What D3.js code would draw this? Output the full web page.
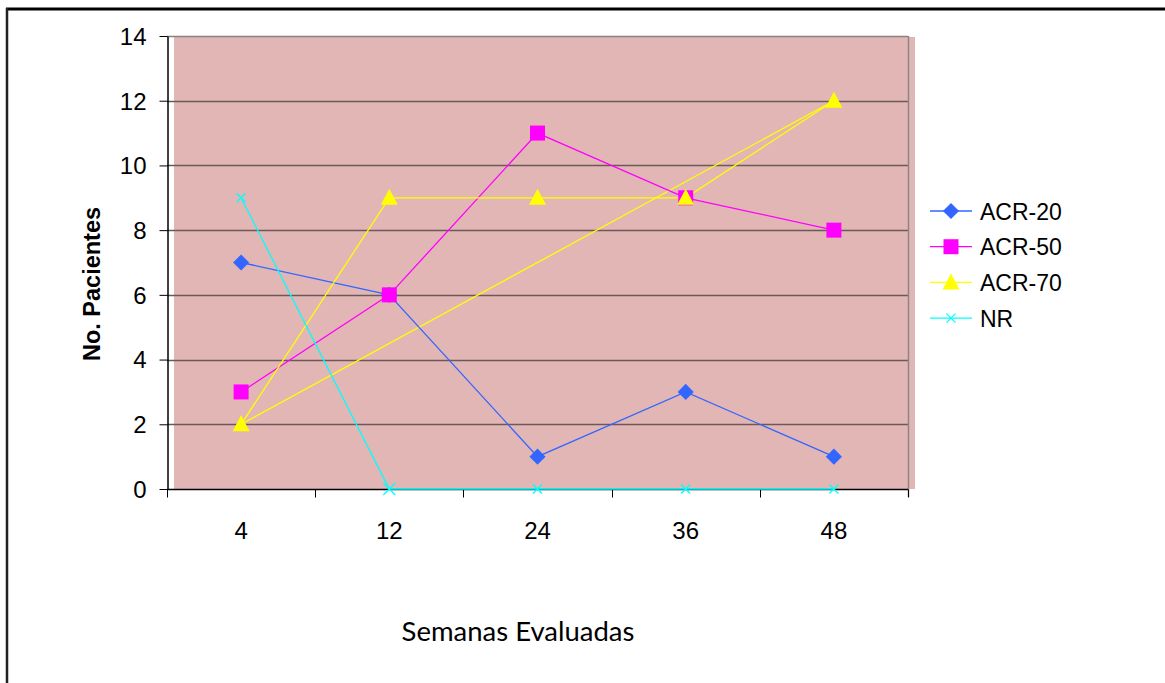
<!DOCTYPE html>
<html>
<head>
<meta charset="utf-8">
<script src="https://cdn.jsdelivr.net/npm/d3@7"></script>
<style>
  html, body { margin: 0; padding: 0; background: #fff; }
  svg { display: block; }
</style>
</head>
<body>
<svg id="chart" width="1165" height="683"></svg>
<script>
// Weeks evaluated and patient counts per response level
const weeks = ["4", "12", "24", "36", "48"];
const acr20 = [7, 6, 1, 3, 1];
const acr50 = [3, 6, 11, 9, 8];
const acr70 = [2, 9, 9, 9, 12];
const acr70Span = [2, null, null, null, 12];
const nr = [9, 0, 0, 0, 0];
const yTicks = [0, 2, 4, 6, 8, 10, 12, 14];

const series = [
  { name: "ACR-20", values: acr20, color: "#3366ff", symbol: "diamond" },
  { name: "ACR-50", values: acr50, color: "#ff00ff", symbol: "square" },
  { name: "ACR-70", values: acr70, color: "#ffff00", symbol: "triangle" },
  { name: "NR", values: nr, color: "#00ffff", symbol: "cross" }
];

const svg = d3.select("#chart");
const plotLeft = 167, plotRight = 908, plotTop = 36, plotBottom = 489;
const sansFont = "Liberation Sans, Arial, sans-serif";

const x = d3.scaleBand().domain(weeks).range([plotLeft, plotRight]);
const y = d3.scaleLinear().domain([0, 14]).range([plotBottom, plotTop]);
const cx = d => x(d) + x.bandwidth() / 2;

// Outer frame (top and left edges)
svg.append("line").attr("x1", 6).attr("x2", 1165).attr("y1", 9).attr("y2", 9)
  .attr("stroke", "#000").attr("stroke-width", 3);
svg.append("line").attr("x1", 7).attr("x2", 7).attr("y1", 8).attr("y2", 683)
  .attr("stroke", "#222").attr("stroke-width", 2.5);

// Plot area fill
svg.append("rect").attr("x", 174).attr("y", plotTop + 1).attr("width", 915 - 174).attr("height", plotBottom - plotTop - 1)
  .attr("fill", "#e3b6b6");

// Horizontal gridlines
svg.append("g").selectAll("line").data(yTicks.filter(t => t > 0)).join("line")
  .attr("x1", plotLeft).attr("x2", plotRight)
  .attr("y1", d => Math.round(y(d)) + 0.5).attr("y2", d => Math.round(y(d)) + 0.5)
  .attr("stroke", d => d === 14 ? "#8a8080" : "#6b5858").attr("stroke-width", 1.5);

// Right border of plot area
svg.append("line").attr("x1", plotRight + 0.5).attr("x2", plotRight + 0.5).attr("y1", plotTop).attr("y2", plotBottom + 8)
  .attr("stroke", "#888").attr("stroke-width", 1.5);

// Y axis
const yAxis = d3.axisLeft(y).tickValues(yTicks).tickSize(8).tickSizeOuter(0);
const gy = svg.append("g").attr("transform", `translate(${plotLeft + 0.5},0)`).call(yAxis);
gy.select(".domain").attr("stroke", "#000").attr("stroke-width", 1.5);
gy.selectAll(".tick line").attr("stroke", "#000");
gy.selectAll(".tick text").attr("font-family", sansFont)
  .attr("font-size", 24).attr("fill", "#000").attr("x", -21).attr("dy", "0.35em");

// X axis with ticks at category boundaries
const gx = svg.append("g").attr("transform", `translate(0,${plotBottom + 0.5})`);
gx.append("line").attr("x1", plotLeft).attr("x2", plotRight).attr("stroke", "#000").attr("stroke-width", 1.5);
const edges = weeks.map(w => x(w)).concat([plotRight]);
gx.selectAll("line.tk").data(edges).join("line").attr("class", "tk")
  .attr("x1", d => Math.round(d) + 0.5).attr("x2", d => Math.round(d) + 0.5)
  .attr("y1", 0).attr("y2", 8).attr("stroke", "#000");
gx.selectAll("text").data(weeks).join("text")
  .attr("x", d => cx(d)).attr("y", 49)
  .attr("text-anchor", "middle")
  .attr("font-family", sansFont).attr("font-size", 24)
  .text(d => d);

// Straight yellow connector between the first and last ACR-70 readings
const spanPts = weeks.map((w, i) => [w, acr70Span[i]]).filter(p => p[1] !== null);
svg.append("path")
  .attr("d", d3.line().x(p => cx(p[0])).y(p => y(p[1]))(spanPts))
  .attr("fill", "none").attr("stroke", "#ffff00").attr("stroke-width", 1.3);

// Series lines
const line = d3.line().x((v, i) => cx(weeks[i])).y(v => y(v));
series.forEach(s => {
  svg.append("path").attr("d", line(s.values))
    .attr("fill", "none").attr("stroke", s.color).attr("stroke-width", 1.3);
});

function drawMarker(g, sym, color, px, py, big) {
  if (sym === "diamond") {
    g.append("path").attr("d", d3.symbol(d3.symbolSquare, 130)())
      .attr("transform", `translate(${px},${py}) rotate(45)`).attr("fill", color);
  } else if (sym === "square") {
    g.append("rect").attr("x", px - 7.5).attr("y", py - 7.5).attr("width", 15).attr("height", 15).attr("fill", color);
  } else if (sym === "triangle") {
    g.append("path").attr("d", `M${px},${py - 9}L${px + 8.5},${py + 7}L${px - 8.5},${py + 7}Z`).attr("fill", color);
  } else {
    const r = big ? 6 : 4.5;
    g.append("path").attr("d", `M${px - r},${py - r}L${px + r},${py + r}M${px - r},${py + r}L${px + r},${py - r}`)
      .attr("stroke", color).attr("stroke-width", 1.3).attr("fill", "none");
  }
}

// Markers
series.forEach(s => {
  const g = svg.append("g");
  s.values.forEach((v, i) => drawMarker(g, s.symbol, s.color, cx(weeks[i]), y(v), i === 1));
});

// Legend
const legend = svg.append("g");
series.forEach((s, i) => {
  const ly = 211 + i * 35.7;
  legend.append("line").attr("x1", 930).attr("x2", 972).attr("y1", ly).attr("y2", ly)
    .attr("stroke", s.color).attr("stroke-width", 1.3);
  drawMarker(legend, s.symbol, s.color, 951, ly, false);
  legend.append("text").attr("x", 980).attr("y", ly + 8.5)
    .attr("font-family", sansFont).attr("font-size", 23)
    .text(s.name);
});

// Axis titles
svg.append("text")
  .attr("transform", "translate(100,284) rotate(-90)")
  .attr("text-anchor", "middle")
  .attr("font-family", sansFont).attr("font-size", 23.5).attr("font-weight", "bold")
  .text("No. Pacientes");
svg.append("text")
  .attr("x", 518).attr("y", 641)
  .attr("text-anchor", "middle")
  .attr("font-family", "Lato, 'Open Sans', sans-serif").attr("font-size", 27.5)
  .text("Semanas Evaluadas");
</script>
</body>
</html>
